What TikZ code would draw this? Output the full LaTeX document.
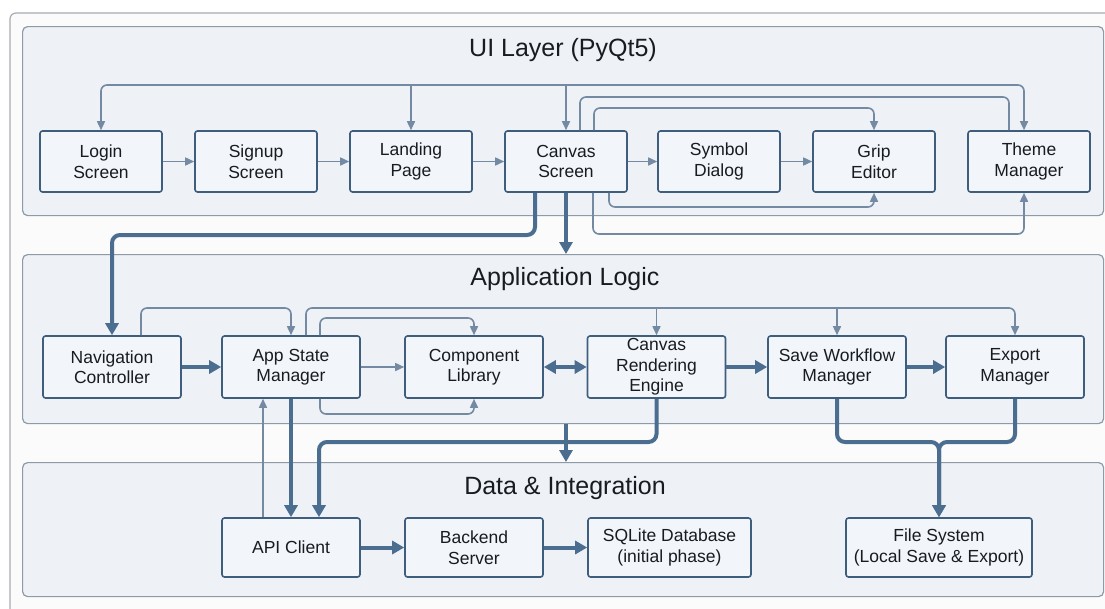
\documentclass[tikz,border=0pt]{standalone}
\usepackage{fontspec}
\setmainfont{Liberation Sans}
\usetikzlibrary{arrows.meta}

\definecolor{framefill}{HTML}{FBFBFC}
\definecolor{frameline}{HTML}{A6ADB4}
\definecolor{panelfill}{HTML}{EEF2F7}
\definecolor{panelline}{HTML}{8E9AA6}
\definecolor{boxfill}{HTML}{F2F5F9}
\definecolor{boxline}{HTML}{3F5E7E}
\definecolor{thinline}{HTML}{7489A2}
\definecolor{thickline}{HTML}{4A6D90}
\definecolor{txt}{HTML}{181C21}

\tikzset{
  ft/.tip={Triangle[length=9pt,width=8pt]},
  mt/.tip={Triangle[length=12pt,width=13pt]},
}

\begin{document}
\begin{tikzpicture}[x=1pt,y=-1pt,
  panel/.style={draw=panelline, line width=1.2pt, fill=panelfill, rounded corners=5pt,
    anchor=north west, inner sep=0pt, minimum width=1081pt},
  box/.style={draw=boxline, line width=1.6pt, fill=boxfill, rounded corners=2.5pt,
    minimum height=61pt, minimum width=122pt, align=center, inner sep=0pt,
    font=\fontsize{17.5}{20.5}\selectfont, text=txt},
  wbox/.style={box, minimum width=138pt, minimum height=62pt},
  dbox/.style={box, minimum width=138pt, minimum height=59pt},
  layertitle/.style={font=\fontsize{25}{30}\selectfont, text=txt},
  flowline/.style={draw=thinline, line width=1.6pt, rounded corners=6pt},
  flow/.style={flowline, -ft},
  mainline/.style={draw=thickline, line width=4pt, rounded corners=8pt},
  main/.style={mainline, -mt},
]
\useasboundingbox (0,0) rectangle (1105,608);
\clip (0,0) rectangle (1105,608);
\fill[white] (0,0) rectangle (1105,608);

% outer frame
\draw[frameline, line width=1.2pt, fill=framefill, rounded corners=6pt] (10,13) rectangle (1125,630);

% layer panels
\node[panel, minimum height=189pt] (ui) at (22,26) {};
\node[panel, minimum height=169pt] (logic) at (22,254) {};
\node[panel, minimum height=134pt] (data) at (22,462) {};

\node[layertitle] (tui) at (563,50) {UI Layer (PyQt5)};
\node[layertitle] (tlogic) at (565,279) {Application Logic};
\node[layertitle] (tdata) at (565,488) {Data \& Integration};

% UI layer screens
\node[box] (login)   at (101,161.5)  {Login\\Screen};
\node[box] (signup)  at (256,161.5)  {Signup\\Screen};
\node[box] (landing) at (411,161.5)  {Landing\\Page};
\node[box] (canvas)  at (566,161.5)  {Canvas\\Screen};
\node[box] (symbol)  at (719,161.5)  {Symbol\\Dialog};
\node[box] (grip)    at (874,161.5)  {Grip\\Editor};
\node[box] (theme)   at (1029,161.5) {Theme\\Manager};

% application logic
\node[wbox] (nav)       at (112,367)   {Navigation\\Controller};
\node[wbox] (appstate)  at (291,367)   {App State\\Manager};
\node[wbox] (component) at (474,367)   {Component\\Library};
\node[wbox] (render)    at (656.5,367) {Canvas\\Rendering\\Engine};
\node[wbox] (save)      at (837,367)   {Save Workflow\\Manager};
\node[wbox] (export)    at (1015,367)  {Export\\Manager};

% data & integration
\node[dbox] (api)     at (291,547.5)   {API Client};
\node[dbox] (backend) at (474,547.5)   {Backend\\Server};
\node[dbox, minimum width=163pt] (sqlite) at (669.5,547.5) {SQLite Database\\(initial phase)};
\node[dbox, minimum width=186pt] (files)  at (939,547.5)   {File System\\(Local Save \& Export)};

% attachment points
\coordinate (thN) at ([xshift=-5pt]theme.north);
\coordinate (thN2) at ([xshift=-20pt]theme.north);
\coordinate (thS) at ([xshift=-5pt]theme.south);
\coordinate (cvN1) at ([xshift=14pt]canvas.north);
\coordinate (cvN2) at ([xshift=28pt]canvas.north);
\coordinate (cvS1) at ([xshift=43pt]canvas.south);
\coordinate (cvS2) at ([xshift=27pt]canvas.south);
\coordinate (cvS3) at ([xshift=-31pt]canvas.south);
\coordinate (nvN) at ([xshift=29pt]nav.north);
\coordinate (asN1) at ([xshift=15pt]appstate.north);
\coordinate (asN2) at ([xshift=29pt]appstate.north);
\coordinate (asS) at ([xshift=29pt]appstate.south);
\coordinate (apN1) at ([xshift=-28pt]api.north);
\coordinate (apN2) at ([xshift=28pt]api.north);

% UI layer flow
\draw[flow] (login) -- (signup);
\draw[flow] (signup) -- (landing);
\draw[flow] (landing) -- (canvas);
\draw[flow] (canvas) -- (symbol);
\draw[flow] (symbol) -- (grip);
\draw[flow, ft-ft] (thN) -- (thN |- 0,85) -| (login.north);
\draw[flow] (landing.north |- 0,85) -- (landing.north);
\draw[flow] (canvas.north |- 0,85) -- (canvas.north);
\draw[flowline] (cvN1) -- (cvN1 |- 0,97) -| (thN2);
\draw[flow] (cvN2) -- (cvN2 |- 0,108) -| (grip.north);
\draw[flow] (cvS1) -- (cvS1 |- 0,207) -| (grip.south);
\draw[flow] (cvS2) -- (cvS2 |- 0,234) -| (thS);

% UI to application logic
\draw[main] (cvS3) -- (cvS3 |- 0,235) -| (nav.north);
\draw[main] (canvas.south) -- (canvas.south |- logic.north);

% application logic flow
\draw[main] (nav) -- (appstate);
\draw[flow] (appstate) -- (component);
\draw[main, mt-mt] (component) -- (render);
\draw[main] (render) -- (save);
\draw[main] (save) -- (export);
\draw[flow] (nvN) -- (nvN |- 0,308) -| (appstate.north);
\draw[flow] (asN1) -- (asN1 |- 0,308) -| (export.north);
\draw[flow] (render.north |- 0,308) -- (render.north);
\draw[flow] (save.north |- 0,308) -- (save.north);
\draw[flow] (asN2) -- (asN2 |- 0,318) -| (component.north);
\draw[flow] (asS) -- (asS |- 0,414) -| (component.south);

% application logic to data
\draw[main] (appstate.south) -- (api.north);
\draw[flow] (apN1) -- (apN1 |- appstate.south);
\draw[main] (render.south) -- (render.south |- 0,442) -| (apN2);
\draw[main] (canvas.south |- logic.south) -- (canvas.south |- data.north);
\draw[main] (save.south) -- (save.south |- 0,442) -| (files.north);
\draw[main] (export.south) -- (export.south |- 0,442) -| (files.north);

% data flow
\draw[main] (api) -- (backend);
\draw[main] (backend) -- (sqlite);
\end{tikzpicture}
\end{document}
